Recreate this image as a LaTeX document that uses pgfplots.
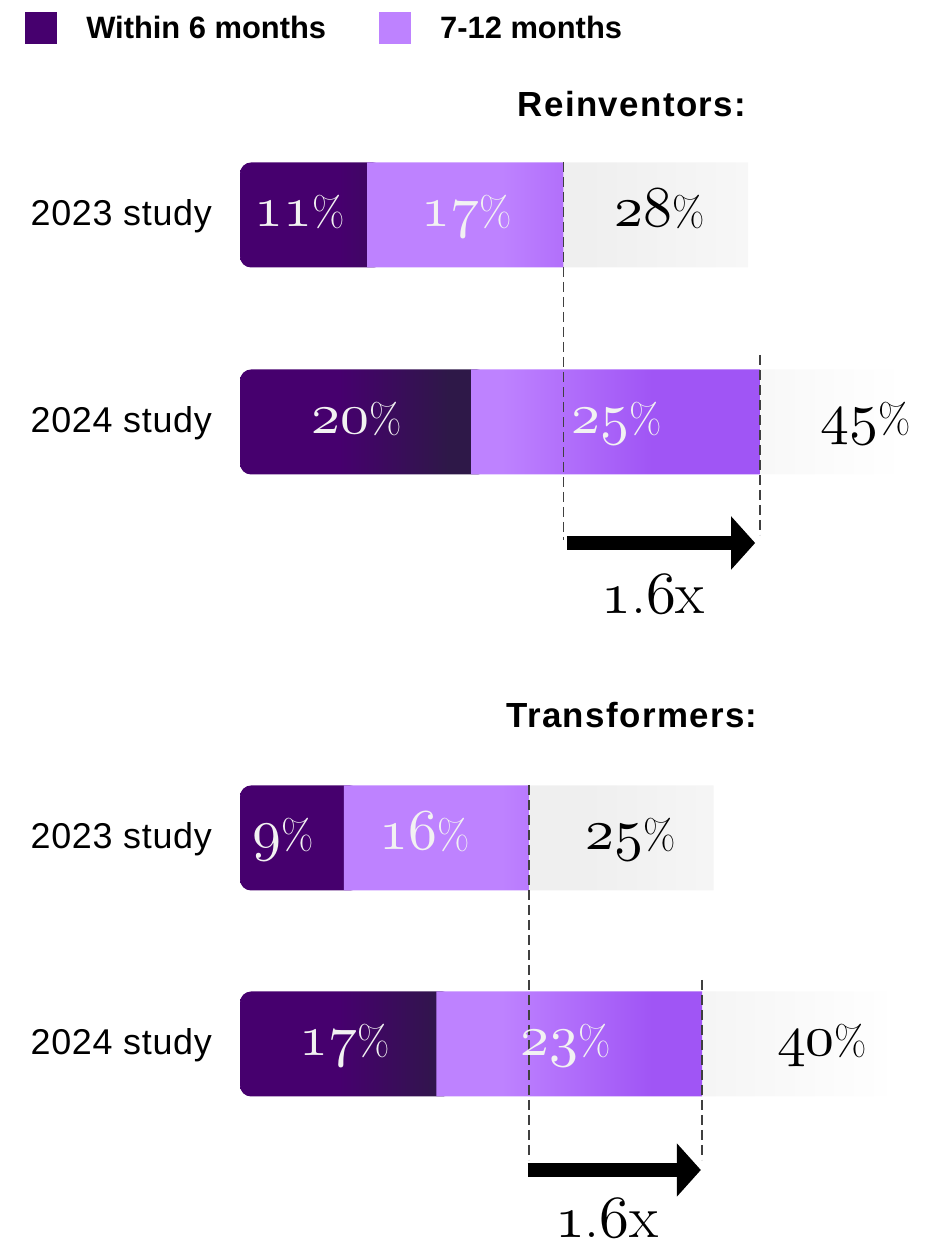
\documentclass[border=0pt]{standalone}
\usepackage{pgfplots}
\pgfplotsset{compat=1.18}
\usepackage{fontspec}
\newfontfamily\sansf{Liberation Sans}
\usetikzlibrary{arrows.meta}
\definecolor{cDark}{HTML}{46006E}
\definecolor{cDarkEnd}{HTML}{2E1848}
\definecolor{cLight}{HTML}{BE82FF}
\definecolor{cLightEnd}{HTML}{A055F5}
\definecolor{cGray}{HTML}{EFEFEF}
\definecolor{cNum}{HTML}{F2F2F2}
\definecolor{cDash}{HTML}{404040}
\pgfdeclarehorizontalshading{darkbar}{100bp}{color(0bp)=(cDark); color(45bp)=(cDark); color(67bp)=(cDarkEnd); color(100bp)=(cDarkEnd)}
\pgfdeclarehorizontalshading{lightbar}{100bp}{color(0bp)=(cLight); color(44bp)=(cLight); color(62bp)=(cLightEnd); color(100bp)=(cLightEnd)}
\pgfdeclarehorizontalshading{graybar}{100bp}{color(0bp)=(cGray); color(32bp)=(cGray); color(70bp)=(white); color(100bp)=(white)}
\DeclareFontFamily{OML}{osf}{\skewchar\font=127 }
\DeclareFontShape{OML}{osf}{m}{it}{<-> cmmi10}{}
\newcommand\osf[1]{{\usefont{OML}{osf}{m}{it}#1}}
\newcommand\pct{{\fontsize{42}{48}\selectfont\%}}
\pgfplotsset{
  frame/.style={at={(0,0)}, anchor=south west,
    width=930bp, height=1250bp, scale only axis,
    xmin=-20.78, xmax=59.74, ymin=0, ymax=1250, hide axis}
}
\tikzset{
  num/.style={anchor=base, text=cNum, font=\fontsize{58}{68}\selectfont, inner sep=0pt},
  numk/.style={anchor=base, text=black, font=\fontsize{58}{68}\selectfont, inner sep=0pt},
  yr/.style={anchor=base east, font=\sansf\addfontfeature{LetterSpace=2}\fontsize{36}{42}\selectfont, inner sep=0pt},
  ttl/.style={anchor=base, font=\sansf\bfseries\addfontfeature{LetterSpace=4}\fontsize{35}{42}\selectfont, inner sep=0pt},
  mult/.style={anchor=base, font=\fontsize{60}{70}\selectfont, inner sep=0pt},
  dsh/.style={cDash, line width=1.5bp, dash pattern=on 10bp off 5bp},
  bigarrow/.style={line width=14bp, -{Triangle[length=24bp, width=52bp]}}
}
\begin{document}
\begin{tikzpicture}
\useasboundingbox (0,0) rectangle (930bp,1250bp);
% layer 1: dark segment (Within 6 months) with rounded left corners
\begin{axis}[frame, xbar, bar width=105]
\addplot[draw=none, shade, shading=darkbar, rounded corners=11bp]
  coordinates {(12.5,1035) (21.5,828) (10.5,412) (18.5,206)};
\end{axis}
% layer 2: stacked segments
\begin{axis}[frame, xbar stacked, bar width=105]
% within 6 months (drawn in layer 1)
\addplot[draw=none, fill=none] coordinates {(11,1035) (20,828) (9,412) (17,206)};
% 7-12 months
\addplot[draw=none, shade, shading=lightbar] coordinates {(17,1035) (25,828) (16,412) (23,206)};
% total (faded band)
\addplot[draw=none, shade, shading=graybar] coordinates {(16,1035) (16,828) (16,412) (16,206)};
\end{axis}
% layer 3: annotations and legend
\begin{axis}[frame,
  legend entries={Within 6 months, 7-12 months},
  legend image code/.code={\fill[#1] (0bp,-16bp) rectangle (32bp,16bp);},
  legend style={at={(axis cs:-18.61,1238)}, anchor=north west, draw=none, fill=none,
    inner sep=0pt, legend columns=2,
    font=\sansf\bfseries\fontsize{31}{37}\selectfont,
    nodes={inner sep=0pt},
    /tikz/every even column/.append style={column sep=53bp},
    /tikz/every odd column/.append style={column sep=29bp}},
]
\addlegendimage{fill=cDark, draw=none}
\addlegendimage{fill=cLight, draw=none}
% dashed guides
\draw[dsh] (axis cs:28,1088) -- (axis cs:28,710);
\draw[dsh] (axis cs:45,895) -- (axis cs:45,715);
\draw[dsh] (axis cs:25,465) -- (axis cs:25,90);
\draw[dsh] (axis cs:40,270) -- (axis cs:40,90);
% arrows
\draw[bigarrow] (axis cs:28.3,707) -- (axis cs:44.6,707);
\draw[bigarrow] (axis cs:24.9,80) -- (axis cs:39.9,80);
\node[mult] at (axis cs:35.76,636) {\osf{1}.\osf{6}x};
\node[mult] at (axis cs:31.77,13) {\osf{1}.\osf{6}x};
% titles
\node[ttl] at (axis cs:33.94,1133) {Reinventors:};
\node[ttl] at (axis cs:33.94,522) {Transformers:};
% year labels
\node[yr] at (axis cs:-2.42,1024) {2023 study};
\node[yr] at (axis cs:-2.42,817) {2024 study};
\node[yr] at (axis cs:-2.42,401) {2023 study};
\node[yr] at (axis cs:-2.42,195) {2024 study};
% values
\node[num] at (axis cs:5.19,1023) {\osf{11}\pct};
\node[num] at (axis cs:19.65,1023) {\osf{17}\pct};
\node[numk] at (axis cs:36.36,1023) {\osf{28}\pct};
\node[num] at (axis cs:10.13,816) {\osf{20}\pct};
\node[num] at (axis cs:32.64,816) {\osf{25}\pct};
\node[numk] at (axis cs:54.2,816) {\osf{45}\pct};
\node[num] at (axis cs:3.72,400) {\osf{9}\pct};
\node[num] at (axis cs:16.0,400) {\osf{16}\pct};
\node[numk] at (axis cs:33.85,400) {\osf{25}\pct};
\node[num] at (axis cs:9.09,194) {\osf{17}\pct};
\node[num] at (axis cs:28.2,194) {\osf{23}\pct};
\node[numk] at (axis cs:50.4,194) {\osf{40}\pct};
\end{axis}
\end{tikzpicture}
\end{document}
